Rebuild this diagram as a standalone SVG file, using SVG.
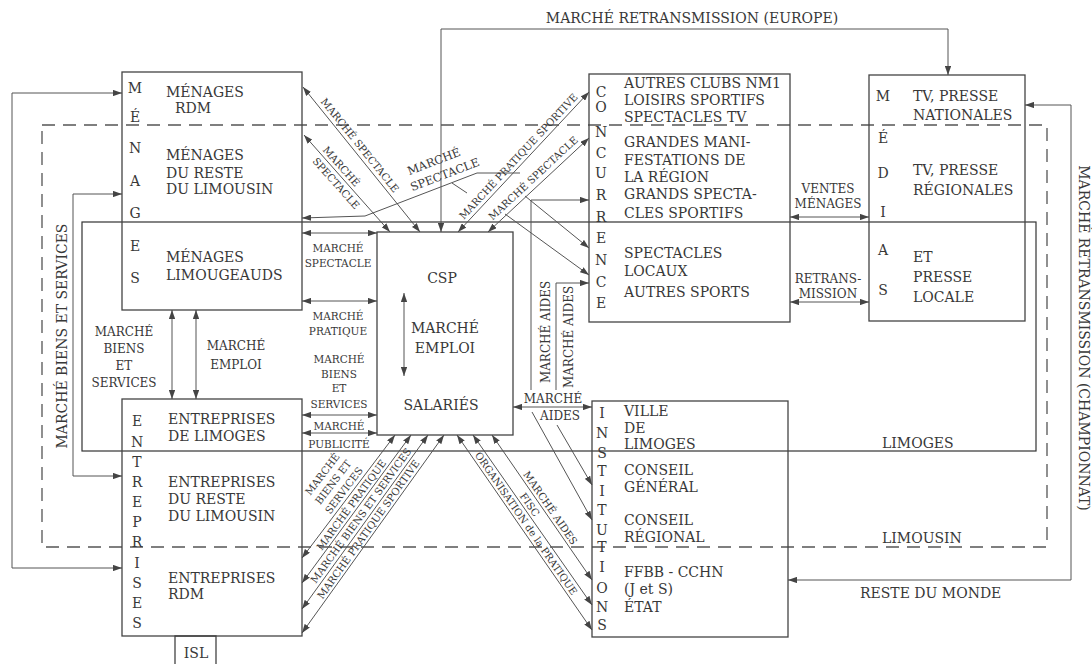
<svg xmlns="http://www.w3.org/2000/svg" width="1092" height="664" viewBox="0 0 1092 664">
<defs>
<style>
text{font-family:"DejaVu Serif","Liberation Serif",serif;fill:#383838}
.bx{font-size:14px}
.lb{font-size:12px}
.sm{font-size:10.5px}
.dg{font-size:10.2px}
.mid{text-anchor:middle}
.box{fill:none;stroke:#444;stroke-width:1.3}
.c{fill:none;stroke:#555;stroke-width:1}
.zone{fill:none;stroke:#333;stroke-width:1.2}
.dash{fill:none;stroke:#555;stroke-width:1.3;stroke-dasharray:13 8}
</style>
<marker id="a" viewBox="0 0 10 7" refX="10" refY="3.5" markerWidth="9" markerHeight="6.3" markerUnits="userSpaceOnUse" orient="auto-start-reverse">
<path d="M0,0 L10,3.5 L0,7 z" fill="#444"/>
</marker>
</defs>
<rect width="1092" height="664" fill="#fff"/>

<!-- territorial zones -->
<g id="zones">
<rect class="dash" x="42" y="125" width="1005" height="422"/>
<rect class="zone" x="82" y="222" width="954" height="229"/>
<text class="bx" x="882" y="448">LIMOGES</text>
<text class="bx" x="882" y="543">LIMOUSIN</text>
<text class="bx" x="860" y="598">RESTE DU MONDE</text>
</g>

<!-- connectors -->
<g id="connectors">
<path class="c" d="M441,232 V29 H948 V75" marker-start="url(#a)" marker-end="url(#a)"/>
<text class="bx mid" x="692" y="23">MARCHÉ RETRANSMISSION (EUROPE)</text>

<path class="c" d="M1025,105 H1071 V580 H788" marker-start="url(#a)" marker-end="url(#a)"/>
<text class="bx mid" transform="translate(1079,338) rotate(90)">MARCHÉ RETRANSMISSION (CHAMPIONNAT)</text>

<path class="c" d="M122,93 H12 V568 H122" marker-start="url(#a)" marker-end="url(#a)"/>
<path class="c" d="M122,194 H73 V476 H122" marker-start="url(#a)" marker-end="url(#a)"/>
<text class="bx mid" transform="translate(67,336) rotate(-90)">MARCHÉ BIENS ET SERVICES</text>

<!-- households / firms -->
<path class="c" d="M172,310 V399" marker-start="url(#a)" marker-end="url(#a)"/>
<path class="c" d="M196,310 V399" marker-start="url(#a)" marker-end="url(#a)"/>
<text class="lb mid" x="124" y="336">MARCHÉ</text>
<text class="lb mid" x="124" y="353">BIENS</text>
<text class="lb mid" x="124" y="370">ET</text>
<text class="lb mid" x="124" y="387">SERVICES</text>
<text class="lb mid" x="236" y="350">MARCHÉ</text>
<text class="lb mid" x="236" y="369">EMPLOI</text>

<!-- left side of CSP -->
<path class="c" d="M302,233 H377" marker-start="url(#a)" marker-end="url(#a)"/>
<text class="sm mid" x="338" y="252">MARCHÉ</text>
<text class="sm mid" x="338" y="267">SPECTACLE</text>
<path class="c" d="M302,301 H377" marker-start="url(#a)" marker-end="url(#a)"/>
<text class="sm mid" x="338" y="320">MARCHÉ</text>
<text class="sm mid" x="338" y="335">PRATIQUE</text>
<text class="sm mid" x="339" y="363">MARCHÉ</text>
<text class="sm mid" x="339" y="378">BIENS</text>
<text class="sm mid" x="339" y="392">ET</text>
<text class="sm mid" x="339" y="408">SERVICES</text>
<path class="c" d="M302,415 H377" marker-start="url(#a)" marker-end="url(#a)"/>
<text class="sm mid" x="339" y="430">MARCHÉ</text>
<path class="c" d="M302,433 H377" marker-start="url(#a)" marker-end="url(#a)"/>
<text class="sm mid" x="339" y="448">PUBLICITÉ</text>

<!-- upper diagonals -->
<path class="c" d="M303,87 L420,232" marker-start="url(#a)" marker-end="url(#a)"/>
<text class="dg mid" transform="translate(354,150) rotate(51.1)" y="-4">MARCHÉ SPECTACLE</text>
<path class="c" d="M304,135 L390,232" marker-start="url(#a)" marker-end="url(#a)"/>
<text class="dg mid" transform="translate(336,171) rotate(48.4)" y="-3.5">MARCHÉ</text>
<text class="dg mid" transform="translate(342,178) rotate(48.4)" y="11.5">SPECTACLE</text>
<path class="c" d="M302,218 L365,216 L477,173 L520,173" marker-start="url(#a)"/>
<path class="c" d="M452,183 L467,193"/>
<text class="dg mid" style="font-size:11.5px" transform="translate(434,162) rotate(-21)" y="3.5">MARCHÉ</text>
<text class="dg mid" style="font-size:11.5px" transform="translate(445,175) rotate(-21)" y="3.5">SPECTACLE</text>
<path class="c" d="M458,232 L589,92" marker-start="url(#a)" marker-end="url(#a)"/>
<text class="dg mid" transform="translate(524,161.5) rotate(-46.9)" y="-4">MARCHÉ PRATIQUE SPORTIVE</text>
<path class="c" d="M488,232 L589,138" marker-start="url(#a)" marker-end="url(#a)"/>
<text class="dg mid" transform="translate(539,184.5) rotate(-42.9)" y="-5">MARCHÉ SPECTACLE</text>
<path class="c" d="M525,196 L589,248" marker-end="url(#a)"/>
<path class="c" d="M505,214 L589,275" marker-end="url(#a)"/>

<!-- aids -->
<path class="c" d="M589,200 H531 V390" marker-start="url(#a)"/>
<path class="c" d="M589,283 H556 V390" marker-start="url(#a)"/>
<text class="lb mid" transform="translate(550,332) rotate(-90)">MARCHÉ AIDES</text>
<text class="lb mid" transform="translate(573,337) rotate(-90)">MARCHÉ AIDES</text>
<path class="c" d="M513,407 H592" marker-start="url(#a)" marker-end="url(#a)"/>
<text class="lb mid" x="553" y="403">MARCHÉ</text>
<text class="lb mid" x="560" y="420">AIDES</text>
<path class="c" d="M532,412 L592,520" marker-end="url(#a)"/>
<path class="c" d="M557,425 L592,485" marker-end="url(#a)"/>

<!-- media -->
<path class="c" d="M790,217 H869" marker-start="url(#a)" marker-end="url(#a)"/>
<text class="lb mid" x="828" y="193">VENTES</text>
<text class="lb mid" x="828" y="208">MÉNAGES</text>
<path class="c" d="M790,302 H869" marker-start="url(#a)" marker-end="url(#a)"/>
<text class="lb mid" x="828" y="283">RETRANS-</text>
<text class="lb mid" x="828" y="298">MISSION</text>

<!-- lower left diagonals -->
<path class="c" d="M395,435 L302,558" marker-start="url(#a)" marker-end="url(#a)"/>
<text class="dg mid" transform="translate(350,495) rotate(-52.9)" y="-31">MARCHÉ</text>
<text class="dg mid" transform="translate(350,495) rotate(-52.9)" y="-17.5">BIENS ET</text>
<text class="dg mid" transform="translate(350,495) rotate(-52.9)" y="-4">SERVICES</text>
<path class="c" d="M411,435 L302,583" marker-start="url(#a)" marker-end="url(#a)"/>
<text class="dg mid" transform="translate(356.7,508.8) rotate(-53.6)" y="-3">MARCHÉ PRATIQUE</text>
<path class="c" d="M428,435 L302,609" marker-start="url(#a)" marker-end="url(#a)"/>
<text class="dg mid" transform="translate(366.7,519.7) rotate(-54.1)" y="-3.5">MARCHÉ BIENS ET SERVICES</text>
<path class="c" d="M444,435 L302,633" marker-start="url(#a)" marker-end="url(#a)"/>
<text class="dg mid" transform="translate(373.7,533.2) rotate(-54.4)" y="-3">MARCHÉ PRATIQUE SPORTIVE</text>

<!-- lower right diagonals -->
<path class="c" d="M457,435 L592,630" marker-start="url(#a)" marker-end="url(#a)"/>
<text class="dg mid" style="font-size:10px" transform="translate(520.8,527.1) rotate(55.3)" y="-3">ORGANISATION de la PRATIQUE</text>
<path class="c" d="M473,435 L592,605" marker-start="url(#a)" marker-end="url(#a)"/>
<text class="dg mid" transform="translate(524.3,508.4) rotate(55)" y="-3">FISC</text>
<path class="c" d="M492,435 L592,580" marker-start="url(#a)" marker-end="url(#a)"/>
<text class="dg mid" transform="translate(544.9,511.6) rotate(55.4)" y="-3">MARCHÉ AIDES</text>
</g>

<!-- households -->
<g id="menages">
<rect class="box" x="122" y="72" width="180" height="238"/>
<g class="bx mid">
<text x="135" y="93">M</text><text x="135" y="122">É</text><text x="135" y="153">N</text><text x="135" y="186">A</text><text x="135" y="218">G</text><text x="135" y="251">E</text><text x="135" y="283">S</text>
</g>
<text class="bx" x="166" y="97">MÉNAGES</text>
<text class="bx" x="175" y="113">RDM</text>
<text class="bx" x="166" y="160">MÉNAGES</text>
<text class="bx" x="166" y="178">DU RESTE</text>
<text class="bx" x="166" y="194">DU LIMOUSIN</text>
<text class="bx" x="166" y="262">MÉNAGES</text>
<text class="bx" x="166" y="280">LIMOUGEAUDS</text>
</g>

<!-- firms -->
<g id="entreprises">
<rect class="box" x="122" y="399" width="180" height="237"/>
<g class="bx mid">
<text x="137" y="426">E</text><text x="137" y="447">N</text><text x="137" y="467">T</text><text x="137" y="487">R</text><text x="137" y="507">E</text><text x="137" y="527">P</text><text x="137" y="547">R</text><text x="137" y="568">I</text><text x="137" y="588">S</text><text x="137" y="608">E</text><text x="137" y="628">S</text>
</g>
<text class="bx" x="168" y="424">ENTREPRISES</text>
<text class="bx" x="168" y="441">DE LIMOGES</text>
<text class="bx" x="168" y="487">ENTREPRISES</text>
<text class="bx" x="168" y="504">DU RESTE</text>
<text class="bx" x="168" y="521">DU LIMOUSIN</text>
<text class="bx" x="168" y="583">ENTREPRISES</text>
<text class="bx" x="168" y="599">RDM</text>
</g>

<g id="isl">
<path class="box" d="M175,664 V636 H216 V664"/>
<text class="bx mid" x="196" y="658">ISL</text>
</g>

<!-- professional sport club -->
<g id="csp">
<rect class="box" x="377" y="232" width="136" height="203"/>
<text class="bx mid" x="442" y="283">CSP</text>
<path class="c" d="M404,293 V376" marker-start="url(#a)" marker-end="url(#a)"/>
<text class="bx mid" x="445" y="333">MARCHÉ</text>
<text class="bx mid" x="445" y="353">EMPLOI</text>
<text class="bx mid" x="441" y="410">SALARIÉS</text>
</g>

<!-- competition -->
<g id="concurrence">
<rect class="box" x="589" y="74" width="201" height="248"/>
<g class="bx mid">
<text x="601" y="97">C</text><text x="601" y="112">O</text><text x="601" y="137">N</text><text x="601" y="158">C</text><text x="601" y="178">U</text><text x="601" y="200">R</text><text x="601" y="222">R</text><text x="601" y="243">E</text><text x="601" y="265">N</text><text x="601" y="287">C</text><text x="601" y="308">E</text>
</g>
<text class="bx" x="624" y="88">AUTRES CLUBS NM1</text>
<text class="bx" x="624" y="105">LOISIRS SPORTIFS</text>
<text class="bx" x="624" y="122">SPECTACLES TV</text>
<text class="bx" x="624" y="147">GRANDES MANI-</text>
<text class="bx" x="624" y="165">FESTATIONS DE</text>
<text class="bx" x="624" y="182">LA RÉGION</text>
<text class="bx" x="624" y="199">GRANDS SPECTA-</text>
<text class="bx" x="624" y="218">CLES SPORTIFS</text>
<text class="bx" x="624" y="258">SPECTACLES</text>
<text class="bx" x="624" y="276">LOCAUX</text>
<text class="bx" x="624" y="297">AUTRES SPORTS</text>
</g>

<!-- media -->
<g id="medias">
<rect class="box" x="869" y="75" width="156" height="246"/>
<g class="bx mid">
<text x="883" y="101">M</text><text x="883" y="143">É</text><text x="883" y="178">D</text><text x="883" y="217">I</text><text x="883" y="255">A</text><text x="883" y="295">S</text>
</g>
<text class="bx" x="913" y="101">TV, PRESSE</text>
<text class="bx" x="913" y="120">NATIONALES</text>
<text class="bx" x="913" y="175">TV, PRESSE</text>
<text class="bx" x="913" y="195">RÉGIONALES</text>
<text class="bx" x="913" y="262">ET</text>
<text class="bx" x="913" y="282">PRESSE</text>
<text class="bx" x="913" y="302">LOCALE</text>
</g>

<!-- institutions -->
<g id="institutions">
<rect class="box" x="592" y="401" width="196" height="236"/>
<g class="bx mid">
<text x="602" y="418">I</text><text x="602" y="438">N</text><text x="602" y="458">S</text><text x="602" y="476">T</text><text x="602" y="496">I</text><text x="602" y="515">T</text><text x="602" y="535">U</text><text x="602" y="552">T</text><text x="602" y="572">I</text><text x="602" y="593">O</text><text x="602" y="612">N</text><text x="602" y="630">S</text>
</g>
<text class="bx" x="624" y="416">VILLE</text>
<text class="bx" x="624" y="433">DE</text>
<text class="bx" x="624" y="449">LIMOGES</text>
<text class="bx" x="624" y="475">CONSEIL</text>
<text class="bx" x="624" y="492">GÉNÉRAL</text>
<text class="bx" x="624" y="525">CONSEIL</text>
<text class="bx" x="624" y="542">RÉGIONAL</text>
<text class="bx" x="624" y="577">FFBB - CCHN</text>
<text class="bx" x="624" y="594">(J et S)</text>
<text class="bx" x="624" y="612">ÉTAT</text>
</g>
</svg>
